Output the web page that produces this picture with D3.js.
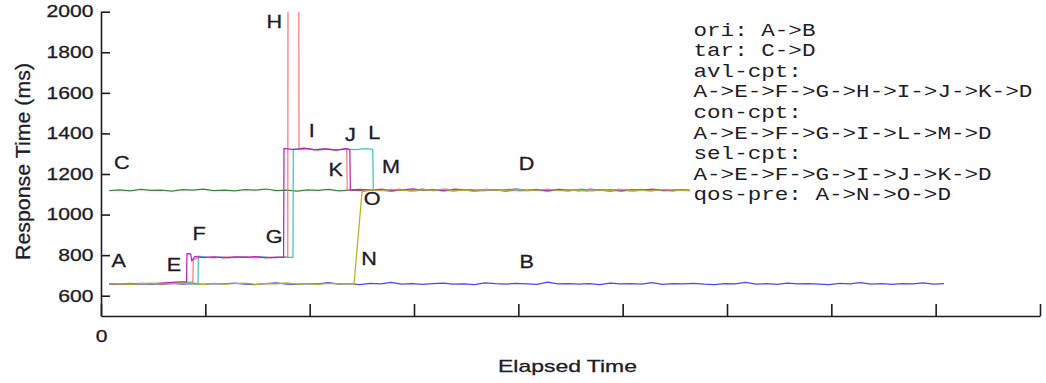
<!DOCTYPE html>
<html>
<head>
<meta charset="utf-8">
<script src="https://cdn.jsdelivr.net/npm/d3@7"></script>
<style>
  html, body { margin: 0; padding: 0; background: #fff; }
  svg { display: block; }
</style>
</head>
<body>
<svg id="chart" width="1046" height="383"></svg>
<script>
// ---------------- DATA ----------------
const yTicks = [600, 800, 1000, 1200, 1400, 1600, 1800, 2000];
const xTicks = [0, 100, 200, 300, 400, 500, 600, 700, 800, 900];
const xTickLabels = ["0", "", "", "", "", "", "", "", "", ""];

const seriesNames = ["ori", "tar", "avl-cpt", "con-cpt", "sel-cpt", "qos-pre"];
const seriesColors = ["#4a4af2", "#2f8a2f", "#ff7878", "#3fc4c4", "#c21fc2", "#b4b41e"];

const ori = [[8,657],[18,659],[28,656],[38,660],[48,658],[58,655],[68,661],[78,657],[88,659],[98,656],
[108,660],[118,658],[128,662],[138,657],[148,655],[158,659],[168,663],[178,657],[188,656],[198,660],
[208,658],[218,664],[228,657],[238,659],[248,655],[258,661],[268,658],[278,666],[288,657],[298,659],
[308,656],[318,660],[328,662],[338,657],[348,658],[358,655],[368,663],[378,659],[388,657],[398,661],
[408,658],[418,656],[428,667],[438,658],[448,660],[458,657],[468,659],[478,655],[488,662],[498,658],
[508,660],[518,657],[528,664],[538,656],[548,659],[558,658],[568,661],[578,657],[588,655],[598,660],
[608,658],[618,666],[628,657],[638,659],[648,656],[658,662],[668,658],[678,660],[688,657],[698,655],
[708,661],[718,658],[728,664],[738,657],[748,659],[758,656],[768,660],[778,658],[788,663],[798,657],
[808,659]];

const tar = [[8,1118],[18,1122],[28,1117],[38,1124],[48,1119],[58,1121],[68,1116],[78,1123],[88,1120],[98,1125],
[108,1118],[118,1121],[128,1117],[138,1123],[148,1120],[158,1126],[168,1118],[178,1121],[188,1116],[198,1122],
[208,1119],[218,1124],[228,1117],[238,1121],[248,1118],[258,1123],[268,1120],[278,1116],[288,1122],[298,1119],
[308,1125],[318,1118],[328,1121],[338,1117],[348,1123],[358,1120],[368,1118],[378,1122],[388,1116],[398,1121],
[408,1119],[418,1124],[428,1118],[438,1120],[448,1117],[458,1123],[468,1119],[478,1121],[488,1116],[498,1122],
[508,1118],[518,1124],[528,1119],[538,1121],[548,1117],[558,1122],[564,1119]];

const avl = [[8,658],[18,656],[28,660],[38,657],[48,659],[58,661],[68,664],[78,667],[88,668],[88.5,778],
[93,786],[98,792],[108,787],[118,791],[128,788],[138,793],[148,786],[158,790],[168,788],[178,791],[179,790],
[179.3,2600],[189.5,2600],[189.8,1320],[198,1325],[208,1318],[218,1323],[228,1319],[235.5,1322],[236,1121],
[246,1124],[256,1118],[266,1122],[276,1119],[286,1125],[296,1117],[306,1121],[316,1123],[326,1118],[336,1120],
[346,1124],[356,1117],[366,1122],[376,1119],[386,1121],[396,1126],[406,1118],[416,1120],[426,1117],[436,1123],
[446,1119],[456,1121],[466,1116],[476,1122],[486,1120],[496,1124],[506,1118],[516,1121],[526,1117],[536,1123],
[546,1119],[556,1122],[564,1120]];

const con = [[8,659],[18,657],[28,661],[38,658],[48,656],[58,660],[68,662],[78,664],[88,663],[93,660],
[93.3,795],[103,789],[113,792],[123,787],[133,791],[143,788],[153,793],[163,787],[173,790],[184,789],
[184.3,1322],[194,1326],[204,1320],[214,1324],[224,1318],[234,1323],[244,1320],[254,1325],[260.5,1321],[261,1122],
[271,1118],[281,1123],[291,1120],[301,1117],[311,1122],[321,1119],[331,1125],[341,1118],[351,1121],[361,1116],
[371,1122],[381,1120],[391,1124],[401,1117],[411,1121],[421,1119],[431,1123],[441,1118],[451,1120],[461,1125],
[471,1117],[481,1122],[491,1119],[501,1121],[511,1116],[521,1123],[531,1120],[541,1118],[551,1122],[561,1119],
[564,1121]];

const sel = [[8,656],[18,659],[28,657],[38,661],[48,658],[58,662],[68,666],[78,668],[82,667],[82.4,808],
[86,806],[87,772],[90,794],[98,788],[108,792],[118,786],[128,791],[138,789],[148,793],[158,787],
[168,790],[175,789],[175.4,1326],[185,1320],[195,1327],[205,1319],[215,1324],[225,1318],[235,1325],[238.5,1320],
[239,1121],[249,1124],[259,1119],[269,1126],[279,1118],[289,1122],[299,1127],[309,1119],[319,1123],[329,1117],
[339,1125],[349,1120],[359,1118],[369,1124],[379,1119],[389,1121],[399,1126],[409,1118],[419,1122],[429,1117],
[439,1124],[449,1120],[459,1118],[469,1125],[479,1119],[489,1121],[499,1116],[509,1123],[519,1120],[529,1126],
[539,1118],[549,1121],[559,1119],[564,1118]];

const qos = [[8,657],[18,660],[28,656],[38,659],[48,662],[58,657],[68,660],[78,663],[88,658],[98,656],
[108,661],[118,657],[128,659],[138,662],[148,656],[158,660],[168,658],[178,663],[188,657],[198,659],
[208,656],[218,661],[228,658],[238,660],[242.5,657],[250.2,1112],[258,1122],[268,1118],[278,1124],[288,1120],
[298,1117],[308,1123],[318,1119],[328,1125],[338,1118],[348,1121],[358,1116],[368,1123],[378,1120],[388,1118],
[398,1124],[408,1119],[418,1121],[428,1126],[438,1118],[448,1122],[458,1117],[468,1123],[478,1120],[488,1118],
[498,1124],[508,1119],[518,1121],[528,1117],[538,1123],[548,1120],[558,1118],[564,1121]];

// point labels: [letter, time, value]
const pointLabels = [
  ["A", 17, 740], ["B", 408, 738], ["C", 20, 1225], ["D", 408, 1219],
  ["E", 70, 724], ["F", 94, 875], ["G", 166, 862], ["H", 166, 1920],
  ["I", 202, 1380], ["J", 239, 1364], ["K", 225, 1188], ["L", 262, 1370],
  ["M", 278, 1207], ["N", 257, 752], ["O", 260, 1045]
];

const legendLines = [
  "ori: A->B",
  "tar: C->D",
  "avl-cpt:",
  "A->E->F->G->H->I->J->K->D",
  "con-cpt:",
  "A->E->F->G->I->L->M->D",
  "sel-cpt:",
  "A->E->F->G->I->J->K->D",
  "qos-pre: A->N->O->D"
];

const yLabel = "Response Time (ms)";
const xLabel = "Elapsed Time";

// ---------------- CHART ----------------
const svg = d3.select("#chart");
const x = d3.scaleLinear().domain([0, 900]).range([101, 1040]);
const y = d3.scaleLinear().domain([500, 2000]).range([316, 11.7]);
const INK = "#1c1c2a";
const SANS = "'Liberation Sans', Arial, sans-serif";
const SX = 1.28;

svg.append("defs").append("clipPath").attr("id", "plotclip")
  .append("rect").attr("x", 101).attr("y", y(2000)).attr("width", 940).attr("height", y(500) - y(2000));

// series
const allSeries = [ori, tar, avl, con, sel, qos];
const line = d3.line().x(d => x(d[0])).y(d => y(d[1]));
const plot = svg.append("g").attr("clip-path", "url(#plotclip)");
allSeries.forEach((s, i) => {
  plot.append("path")
    .datum(s)
    .attr("d", line)
    .attr("fill", "none")
    .attr("stroke", seriesColors[i])
    .attr("stroke-width", 1.25)
    .attr("stroke-linejoin", "round");
});

// axes
const xAxis = d3.axisBottom(x).tickValues(xTicks)
  .tickFormat((d, i) => xTickLabels[i]).tickSizeInner(-12).tickSizeOuter(0).tickPadding(14);
const gx = svg.append("g").attr("transform", `translate(0,${y(500)})`).call(xAxis);

const yAxis = d3.axisLeft(y).tickValues(yTicks).tickFormat(d3.format("d"))
  .tickSizeInner(-9).tickSizeOuter(0).tickPadding(7.5);
const gy = svg.append("g").attr("transform", `translate(${x(0)},0)`).call(yAxis);

[gx, gy].forEach(g => {
  g.attr("font-family", SANS).attr("font-size", 16.5);
  g.select(".domain").attr("stroke", INK).attr("stroke-width", 1.6);
  g.selectAll(".tick line").attr("stroke", INK).attr("stroke-width", 1.6);
  g.selectAll(".tick text").attr("fill", INK).attr("stroke", INK).attr("stroke-width", 0.3)
    .style("font-family", SANS).style("font-size", "16.5px");
});
// horizontal stretch of tick labels (the original figure's text is wide)
gy.selectAll(".tick text").attr("x", -7.5 / SX).attr("transform", `scale(${SX},1)`);
gx.selectAll(".tick text").attr("transform", `scale(${SX},1)`);

// axis titles
svg.append("text").attr("x", 567.5).attr("y", 371.5).attr("text-anchor", "middle")
  .attr("font-family", SANS).attr("font-size", 17)
  .attr("fill", INK).attr("stroke", INK).attr("stroke-width", 0.3)
  .attr("textLength", 139).attr("lengthAdjust", "spacingAndGlyphs").text(xLabel);

svg.append("text").attr("transform", "translate(30,161.5) rotate(-90)").attr("text-anchor", "middle")
  .attr("font-family", SANS).attr("font-size", 19.5)
  .attr("fill", INK).attr("stroke", INK).attr("stroke-width", 0.3)
  .attr("textLength", 197).attr("lengthAdjust", "spacingAndGlyphs").text(yLabel);

// point letters
svg.append("g").selectAll("text").data(pointLabels).join("text")
  .attr("x", d => x(d[1])).attr("y", d => y(d[2])).attr("text-anchor", "middle")
  .attr("font-family", SANS).attr("font-size", 18)
  .attr("fill", INK).attr("stroke", INK).attr("stroke-width", 0.3)
  .attr("transform", d => `translate(${x(d[1])},0) scale(1.2,1) translate(${-x(d[1])},0)`)
  .text(d => d[0]);

// legend text
svg.append("g").selectAll("text").data(legendLines).join("text")
  .attr("x", 693.5).attr("y", (d, i) => 35.5 + i * 20.6)
  .attr("font-family", "'Liberation Mono', 'Courier New', monospace").attr("font-size", 18.5)
  .attr("fill", INK).attr("xml:space", "preserve").style("white-space", "pre")
  .text(d => d)
  .attr("textLength", d => d.length * 13.55).attr("lengthAdjust", "spacingAndGlyphs");
</script>
</body>
</html>
